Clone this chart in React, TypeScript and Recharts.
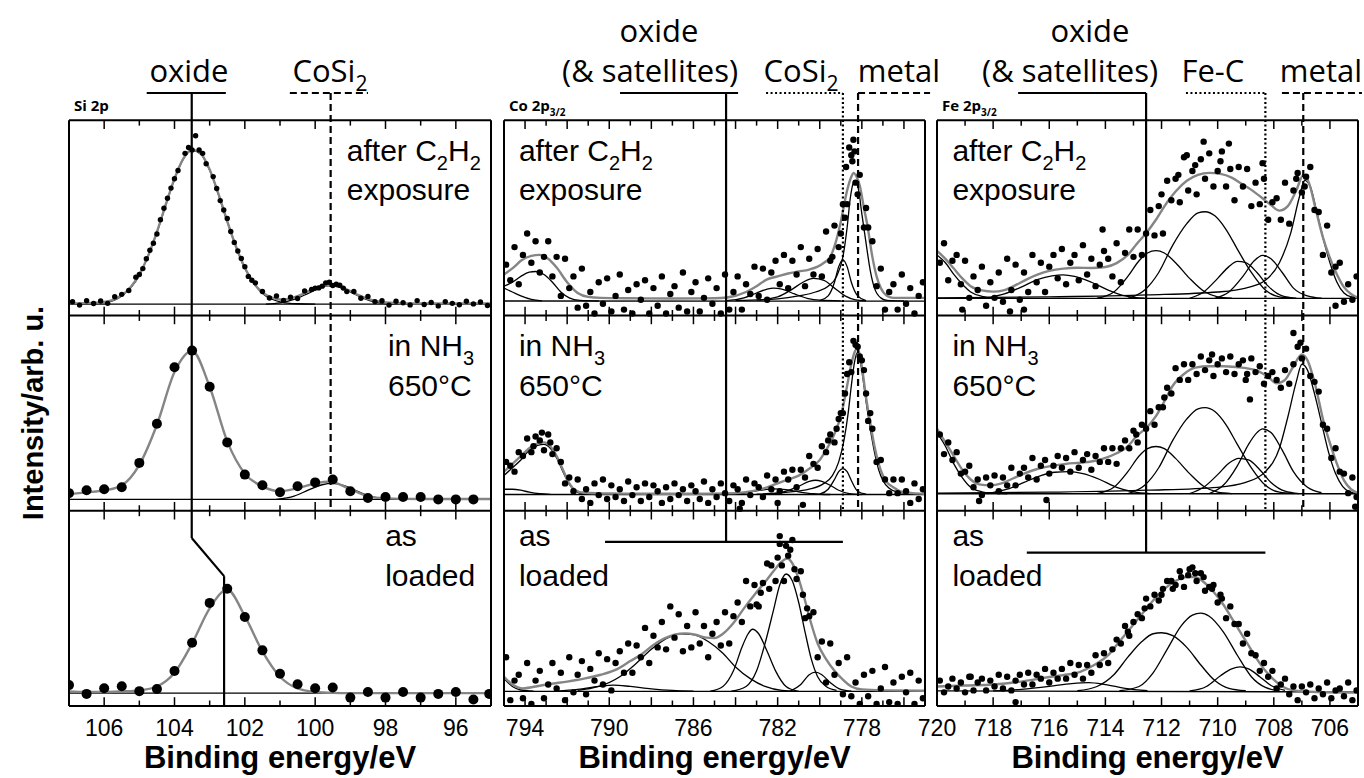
import React from 'react';
import { ComposedChart, XAxis, YAxis, Line, Scatter, ReferenceLine, ReferenceDot } from 'recharts';

type P = [number, number];
type Seg = { t: string; sub?: boolean };

const SANS = "'Liberation Sans', Arial, sans-serif";
const NARROW = "'Liberation Sans Narrow', 'Liberation Sans', Arial, sans-serif";
const ANNO = "'Open Sans', 'Noto Sans', sans-serif";

// ---------- Si 2p ----------
const siMajor = [96, 98, 100, 102, 104, 106];
const siMinor = [97, 99, 101, 103, 105];
const siLabels = [96, 98, 100, 102, 104, 106];

const siTopPts: P[] = [
  [106.9, 0.07], [106.7, 0.053], [106.5, 0.075], [106.3, 0.061], [106.1, 0.074], [105.9, 0.062], [105.7, 0.096],
  [105.5, 0.108], [105.3, 0.128], [105.1, 0.196], [104.9, 0.24], [104.7, 0.334], [104.5, 0.417], [104.3, 0.549],
  [104.1, 0.652], [103.9, 0.742], [103.7, 0.83], [103.5, 0.847], [103.3, 0.847], [103.1, 0.777], [102.9, 0.711],
  [102.7, 0.588], [102.5, 0.497], [102.3, 0.374], [102.1, 0.292], [101.9, 0.2], [101.7, 0.167], [101.5, 0.123],
  [101.3, 0.089], [101.1, 0.1], [100.9, 0.077], [100.7, 0.093], [100.5, 0.087], [100.3, 0.125], [100.1, 0.133],
  [99.9, 0.141], [99.7, 0.167], [99.5, 0.153], [99.3, 0.155], [99.1, 0.122], [98.9, 0.123], [98.7, 0.088],
  [98.5, 0.097], [98.3, 0.071], [98.1, 0.075], [97.9, 0.053], [97.7, 0.073], [97.5, 0.065], [97.3, 0.054],
  [97.1, 0.076], [96.9, 0.056], [96.7, 0.066], [96.5, 0.049], [96.3, 0.071], [96.1, 0.062], [95.9, 0.055],
  [95.7, 0.073], [95.5, 0.059], [95.3, 0.069], [95.1, 0.051],
  [103.4, 0.92], [103.6, 0.86], [103.2, 0.83], [104.0, 0.7], [102.8, 0.65], [104.2, 0.6], [102.6, 0.54],
  [104.4, 0.49], [102.4, 0.43], [104.6, 0.37], [102.2, 0.33], [104.8, 0.29], [102.0, 0.25], [105.0, 0.21],
  [101.8, 0.18], [99.6, 0.17], [99.8, 0.15], [100.0, 0.14], [99.4, 0.16], [99.2, 0.14],
];
const siTopFit: P[] = [
  [107, 0.062], [106.5, 0.063], [106, 0.069], [105.75, 0.08], [105.5, 0.103], [105.25, 0.144], [105, 0.21],
  [104.75, 0.305], [104.5, 0.428], [104.25, 0.567], [104, 0.701], [103.75, 0.803], [103.5, 0.848], [103.25, 0.829],
  [103, 0.747], [102.75, 0.622], [102.5, 0.483], [102.25, 0.352], [102, 0.244], [101.75, 0.167], [101.5, 0.118],
  [101.25, 0.092], [101, 0.082], [100.75, 0.085], [100.5, 0.099], [100.25, 0.118], [100, 0.139], [99.75, 0.153],
  [99.5, 0.155], [99.25, 0.145], [99, 0.125], [98.75, 0.103], [98.5, 0.085], [98.25, 0.073], [98, 0.066],
  [97.5, 0.062], [95, 0.062],
];
const siTopOx: P[] = [
  [107, 0.058], [106, 0.066], [105.5, 0.1], [105, 0.205], [104.5, 0.425], [104, 0.698], [103.75, 0.8], [103.5, 0.845],
  [103.25, 0.826], [103, 0.744], [102.5, 0.48], [102, 0.24], [101.5, 0.113], [101, 0.07], [100.5, 0.06], [100, 0.058],
];
const siTopCo: P[] = [
  [101.4, 0.058], [101, 0.064], [100.6, 0.082], [100.2, 0.113], [99.9, 0.138], [99.6, 0.153], [99.3, 0.144],
  [99, 0.12], [98.7, 0.094], [98.4, 0.073], [98, 0.061], [97.6, 0.058],
];
const siTopBase: P[] = [[107, 0.058], [95, 0.058]];

const siMidPts: P[] = [
  [107, 0.09], [106.5, 0.105], [106, 0.11], [105.5, 0.12], [105, 0.245], [104.5, 0.445], [104, 0.735], [103.5, 0.82],
  [103, 0.635], [102.5, 0.35], [102, 0.185], [101.5, 0.13], [101, 0.095], [100.5, 0.125], [100, 0.145], [99.5, 0.16],
  [99, 0.1], [98.5, 0.065], [98, 0.07], [97.5, 0.07], [97, 0.07], [96.5, 0.058], [96, 0.058], [95.5, 0.058],
];
const siMidFit: P[] = [
  [107, 0.085], [106.5, 0.094], [106, 0.104], [105.5, 0.13], [105, 0.235], [104.5, 0.44], [104, 0.71], [103.5, 0.818],
  [103, 0.635], [102.5, 0.355], [102, 0.19], [101.5, 0.125], [101, 0.1], [100.5, 0.115], [100, 0.14], [99.6, 0.15],
  [99, 0.11], [98.5, 0.075], [98, 0.063], [97, 0.06], [95, 0.06],
];
const siMidCo: P[] = [
  [101.1, 0.058], [100.6, 0.075], [100.2, 0.105], [99.8, 0.133], [99.5, 0.14], [99.2, 0.13], [98.9, 0.108],
  [98.5, 0.078], [98.1, 0.062], [97.7, 0.058],
];
const siMidBase: P[] = [[107, 0.058], [95, 0.058]];

const siBotPts: P[] = [
  [107, 0.107], [106.5, 0.062], [106, 0.091], [105.5, 0.101], [105, 0.076], [104.5, 0.087], [104, 0.179],
  [103.5, 0.324], [103, 0.528], [102.5, 0.6], [102, 0.456], [101.5, 0.285], [101, 0.165], [100.5, 0.111],
  [100, 0.091], [99.5, 0.095], [99, 0.043], [98.5, 0.072], [98, 0.043], [97.5, 0.072], [97, 0.043], [96.5, 0.062],
  [96, 0.072], [95.5, 0.033], [95.05, 0.062],
];
const siBotFit: P[] = [
  [107, 0.075], [106.5, 0.072], [106, 0.072], [105.5, 0.075], [105, 0.08], [104.5, 0.1], [104, 0.17], [103.5, 0.32],
  [103, 0.5], [102.5, 0.595], [102, 0.46], [101.5, 0.28], [101, 0.15], [100.5, 0.09], [100, 0.072], [99.5, 0.067],
  [99, 0.066], [95, 0.066],
];
const siBotBase: P[] = [[107, 0.066], [95, 0.066]];

// ---------- Co 2p3/2 ----------
const coMajor = [776, 778, 780, 782, 784, 786, 788, 790, 792, 794];
const coMinor = [777, 779, 781, 783, 785, 787, 789, 791, 793];
const coLabels = [778, 782, 786, 790, 794];

const coTopPts: P[] = [
  [794.9, 0.26], [794.7, 0.18], [794.5, 0.35], [794.3, 0.16], [794.1, 0.31], [793.9, 0.42], [793.7, 0.27],
  [793.5, 0.38], [793.3, 0.22], [793.1, 0.3], [792.9, 0.38], [792.7, 0.2], [792.5, 0.3], [792.3, 0.1], [792.1, 0.29],
  [791.9, 0.14], [791.7, 0.2], [791.5, 0.04], [791.3, 0.24], [791.1, 0.05], [790.9, 0.12], [790.7, 0.01],
  [790.5, 0.17], [790.3, 0.06], [790.1, 0.19], [789.9, 0.02], [789.7, 0.1], [789.5, 0.21], [789.3, 0.03],
  [789.1, 0.13], [788.9, 0.01], [788.7, 0.16], [788.5, 0.08], [788.3, 0.18], [788.1, 0.01], [787.9, 0.14],
  [787.7, 0.05], [787.5, 0.2], [787.3, 0.01], [787.1, 0.11], [786.9, 0.15], [786.7, 0.04], [786.5, 0.22],
  [786.3, 0.02], [786.1, 0.12], [785.9, 0.17], [785.7, 0.02], [785.5, 0.09], [785.3, 0.19], [785.1, 0.06],
  [784.9, 0.14], [784.7, 0.01], [784.5, 0.21], [784.3, 0.03], [784.1, 0.12], [783.9, 0.2], [783.7, 0.03],
  [783.5, 0.16], [783.3, 0.11], [783.1, 0.25], [782.9, 0.1], [782.7, 0.24], [782.5, 0.08], [782.3, 0.22],
  [782.1, 0.28], [781.9, 0.16], [781.7, 0.31], [781.5, 0.14], [781.3, 0.28], [781.1, 0.21], [780.9, 0.35],
  [780.7, 0.15], [780.5, 0.29], [780.3, 0.21], [780.1, 0.34], [779.9, 0.2], [779.7, 0.43], [779.5, 0.28],
  [779.3, 0.46], [779.1, 0.35], [778.9, 0.57], [778.7, 0.57], [778.5, 0.82], [778.3, 0.68], [778.1, 0.72],
  [777.9, 0.45], [777.7, 0.45], [777.5, 0.38], [777.3, 0.15], [777.1, 0.24], [776.9, 0.03], [776.7, 0.12],
  [776.5, 0.16], [776.3, 0.03], [776.1, 0.21], [775.9, 0.06], [775.7, 0.14], [775.5, 0.01], [775.3, 0.1],
  [775.1, 0.17],
  [778.6, 0.86], [778.4, 0.9], [778.45, 0.79], [778.2, 0.62], [778.75, 0.76], [778.35, 0.84], [779.0, 0.42],
  [778.8, 0.5], [777.8, 0.55], [779.4, 0.3],
];
const coTopFit: P[] = [
  [795, 0.21], [794.5, 0.25], [794.2, 0.28], [793.7, 0.305], [793.3, 0.31], [792.9, 0.29], [792.5, 0.245],
  [792.0, 0.17], [791.5, 0.115], [791.0, 0.095], [790.4, 0.09], [789, 0.088], [787, 0.087], [785, 0.088],
  [784.4, 0.092], [783.5, 0.12], [783, 0.15], [782.5, 0.185], [782, 0.2], [781.5, 0.215], [781, 0.225],
  [780.5, 0.235], [780.1, 0.25], [779.8, 0.27], [779.5, 0.3], [779.2, 0.39], [779.0, 0.48], [778.7, 0.64],
  [778.5, 0.71], [778.4, 0.73], [778.25, 0.71], [778.1, 0.665], [777.9, 0.55], [777.75, 0.47], [777.5, 0.3],
  [777.3, 0.2], [777.1, 0.14], [776.8, 0.1], [776.5, 0.09], [775, 0.09],
];
const coTopBase: P[] = [[795, 0.074], [775, 0.073]];
const coTopSatA: P[] = [
  [795, 0.15], [794.6, 0.17], [794.2, 0.2], [793.8, 0.222], [793.5, 0.225], [793.1, 0.21], [792.7, 0.17],
  [792.3, 0.12], [791.9, 0.09], [791.4, 0.077], [790.5, 0.074],
];
const coTopSatB: P[] = [[795, 0.14], [794.6, 0.12], [794.2, 0.1], [793.7, 0.082], [793.2, 0.075]];
const coTopC1: P[] = [
  [784.5, 0.075], [783.6, 0.09], [783, 0.115], [782.5, 0.135], [782.2, 0.14], [781.8, 0.135], [781.2, 0.11],
  [780.6, 0.088], [780, 0.078], [779, 0.075],
];
const coTopC2: P[] = [
  [783, 0.078], [782, 0.095], [781.3, 0.135], [780.8, 0.17], [780.3, 0.19], [779.8, 0.18], [779.3, 0.14],
  [778.8, 0.1], [778.3, 0.08], [777.8, 0.075],
];
const coTopSi: P[] = [
  [780, 0.076], [779.6, 0.1], [779.3, 0.17], [779.1, 0.25], [778.9, 0.285], [778.7, 0.25], [778.5, 0.17],
  [778.2, 0.1], [777.8, 0.076],
];
const coTopMetal: P[] = [
  [784, 0.076], [782, 0.085], [781, 0.1], [780.2, 0.12], [779.6, 0.15], [779.2, 0.2], [778.9, 0.3], [778.7, 0.45],
  [778.55, 0.6], [778.4, 0.68], [778.3, 0.69], [778.15, 0.64], [778.0, 0.52], [777.8, 0.37], [777.6, 0.23],
  [777.4, 0.14], [777.1, 0.09], [776.8, 0.077], [776, 0.074],
];

const coMidPts: P[] = [
  [794.9, 0.25], [794.7, 0.23], [794.5, 0.2], [794.3, 0.3], [794.1, 0.28], [793.9, 0.37], [793.7, 0.3], [793.5, 0.38],
  [793.3, 0.36], [793.1, 0.31], [792.9, 0.39], [792.7, 0.29], [792.5, 0.32], [792.3, 0.25], [792.1, 0.14],
  [791.9, 0.17], [791.7, 0.1], [791.5, 0.16], [791.3, 0.06], [791.1, 0.11], [790.9, 0.04], [790.7, 0.14],
  [790.5, 0.08], [790.3, 0.16], [790.1, 0.06], [789.9, 0.13], [789.7, 0.07], [789.5, 0.11], [789.3, 0.05],
  [789.1, 0.15], [788.9, 0.08], [788.7, 0.12], [788.5, 0.05], [788.3, 0.14], [788.1, 0.07], [787.9, 0.13],
  [787.7, 0.1], [787.5, 0.04], [787.3, 0.12], [787.1, 0.06], [786.9, 0.14], [786.7, 0.08], [786.5, 0.11],
  [786.3, 0.05], [786.1, 0.13], [785.9, 0.1], [785.7, 0.06], [785.5, 0.15], [785.3, 0.04], [785.1, 0.11],
  [784.9, 0.07], [784.7, 0.14], [784.5, 0.09], [784.3, 0.05], [784.1, 0.13], [783.9, 0.11], [783.7, 0.04],
  [783.5, 0.16], [783.3, 0.08], [783.1, 0.14], [782.9, 0.12], [782.7, 0.07], [782.5, 0.18], [782.3, 0.11],
  [782.1, 0.16], [781.9, 0.1], [781.7, 0.2], [781.5, 0.16], [781.3, 0.21], [781.1, 0.12], [780.9, 0.21],
  [780.7, 0.17], [780.5, 0.28], [780.3, 0.24], [780.1, 0.22], [779.9, 0.33], [779.7, 0.3], [779.5, 0.39],
  [779.3, 0.35], [779.1, 0.47], [778.9, 0.5], [778.7, 0.7], [778.5, 0.71], [778.3, 0.85], [778.1, 0.79],
  [777.9, 0.72], [777.7, 0.46], [777.5, 0.42], [777.3, 0.25], [777.1, 0.26], [776.9, 0.16], [776.7, 0.09],
  [776.5, 0.16], [776.3, 0.09], [776.1, 0.16], [775.9, 0.1], [775.7, 0.04], [775.5, 0.14], [775.3, 0.06],
  [775.1, 0.11],
  [778.4, 0.87], [778.2, 0.84], [778.6, 0.76], [778.0, 0.77], [778.8, 0.6], [777.8, 0.6], [779.2, 0.42],
  [779.6, 0.36], [779.0, 0.5], [777.6, 0.5], [783.8, 0.01], [782.0, 0.04], [780.8, 0.03], [793.2, 0.4],
  [793.6, 0.33], [792.8, 0.35],
];
const coMidFit: P[] = [
  [795, 0.2], [794.6, 0.24], [794.2, 0.28], [793.8, 0.32], [793.4, 0.345], [793.1, 0.35], [792.8, 0.33],
  [792.5, 0.28], [792.2, 0.21], [791.9, 0.14], [791.6, 0.105], [791.2, 0.092], [790, 0.088], [788, 0.087],
  [786, 0.087], [784, 0.09], [783.2, 0.1], [782.5, 0.12], [782, 0.14], [781.5, 0.16], [781, 0.18], [780.5, 0.215],
  [780, 0.26], [779.7, 0.31], [779.4, 0.37], [779.1, 0.45], [778.9, 0.53], [778.7, 0.64], [778.5, 0.75],
  [778.35, 0.81], [778.22, 0.83], [778.1, 0.8], [777.95, 0.7], [777.8, 0.58], [777.6, 0.45], [777.4, 0.33],
  [777.2, 0.24], [777.0, 0.18], [776.8, 0.145], [776.5, 0.12], [776.2, 0.1], [775.6, 0.09], [775, 0.087],
];
const coMidBase: P[] = [[795, 0.083], [775, 0.083]];
const coMidSatA: P[] = [[795, 0.11], [794.6, 0.11], [794.2, 0.105], [793.8, 0.095], [793.3, 0.087], [792.8, 0.084]];
const coMidSatB: P[] = [
  [795, 0.18], [794.6, 0.22], [794.2, 0.26], [793.8, 0.31], [793.4, 0.335], [793.1, 0.34], [792.8, 0.32],
  [792.5, 0.27], [792.2, 0.2], [791.9, 0.135], [791.6, 0.1], [791.2, 0.086], [790.6, 0.083],
];
const coMidC1: P[] = [
  [784.5, 0.083], [783.5, 0.092], [782.8, 0.105], [782.2, 0.112], [781.6, 0.108], [781, 0.097], [780.3, 0.087],
  [779.5, 0.083],
];
const coMidC2: P[] = [
  [782.3, 0.085], [781.6, 0.1], [781, 0.125], [780.5, 0.15], [780.2, 0.156], [779.9, 0.15], [779.5, 0.13],
  [779.1, 0.105], [778.6, 0.088], [778, 0.083],
];
const coMidSi: P[] = [
  [780, 0.085], [779.6, 0.11], [779.3, 0.16], [779.1, 0.2], [778.9, 0.216], [778.7, 0.2], [778.5, 0.155],
  [778.2, 0.1], [777.8, 0.085],
];
const coMidMetal: P[] = [
  [783, 0.085], [781.5, 0.095], [780.5, 0.11], [779.8, 0.14], [779.4, 0.18], [779.1, 0.25], [778.85, 0.36],
  [778.65, 0.5], [778.5, 0.64], [778.35, 0.76], [778.22, 0.81], [778.1, 0.78], [777.95, 0.68], [777.8, 0.56],
  [777.6, 0.42], [777.4, 0.3], [777.2, 0.21], [777.0, 0.155], [776.7, 0.115], [776.3, 0.095], [775.5, 0.086],
  [775, 0.084],
];

const coBotPts: P[] = [
  [794.9, 0.25], [794.7, 0.03], [794.5, 0.13], [794.3, 0.16], [794.1, 0.04], [793.9, 0.22], [793.7, 0.01],
  [793.5, 0.13], [793.3, 0.18], [793.1, 0.04], [792.9, 0.11], [792.7, 0.22], [792.5, 0.09], [792.3, 0.17],
  [792.1, 0.03], [791.9, 0.25], [791.7, 0.07], [791.5, 0.16], [791.3, 0.23], [791.1, 0.06], [790.9, 0.19],
  [790.7, 0.13], [790.5, 0.27], [790.3, 0.11], [790.1, 0.24], [789.9, 0.08], [789.7, 0.22], [789.5, 0.28],
  [789.3, 0.17], [789.1, 0.32], [788.9, 0.17], [788.7, 0.31], [788.5, 0.25], [788.3, 0.4], [788.1, 0.22],
  [787.9, 0.36], [787.7, 0.3], [787.5, 0.43], [787.3, 0.29], [787.1, 0.51], [786.9, 0.35], [786.7, 0.47],
  [786.5, 0.28], [786.3, 0.41], [786.1, 0.3], [785.9, 0.48], [785.7, 0.32], [785.5, 0.41], [785.3, 0.25],
  [785.1, 0.37], [784.9, 0.43], [784.7, 0.31], [784.5, 0.48], [784.3, 0.32], [784.1, 0.46], [783.9, 0.53],
  [783.7, 0.43], [783.5, 0.64], [783.3, 0.51], [783.1, 0.62], [782.9, 0.51], [782.7, 0.63], [782.5, 0.73],
  [782.3, 0.72], [782.1, 0.64], [781.9, 0.83], [781.7, 0.64], [781.5, 0.77], [781.3, 0.85], [781.1, 0.65],
  [780.9, 0.69], [780.7, 0.45], [780.5, 0.46], [780.3, 0.48], [780.1, 0.25], [779.9, 0.33], [779.7, 0.12],
  [779.5, 0.32], [779.3, 0.16], [779.1, 0.22], [778.9, 0.06], [778.7, 0.25], [778.5, 0.05], [778.3, 0.12],
  [778.1, 0.01], [777.9, 0.16], [777.7, 0.05], [777.5, 0.18], [777.3, 0.01], [777.1, 0.09], [776.9, 0.2],
  [776.7, 0.02], [776.5, 0.12], [776.3, 0.01], [776.1, 0.15], [775.9, 0.07], [775.7, 0.17], [775.5, 0.01],
  [775.3, 0.13], [775.1, 0.04],
  [781.6, 0.82], [781.4, 0.8], [781.8, 0.72], [782.0, 0.76], [781.2, 0.7], [782.4, 0.6], [782.8, 0.58],
  [783.0, 0.52], [780.8, 0.57], [780.6, 0.5], [781.9, 0.87],
];
const coBotFit: P[] = [
  [795, 0.15], [794.6, 0.11], [794.1, 0.09], [793.5, 0.1], [792.8, 0.113], [792, 0.125], [791.2, 0.14],
  [790.4, 0.16], [789.6, 0.19], [789, 0.23], [788.4, 0.27], [788, 0.305], [787.4, 0.345], [786.9, 0.365],
  [786.4, 0.372], [785.9, 0.365], [785.4, 0.35], [785.0, 0.348], [784.6, 0.37], [784.1, 0.425], [783.6, 0.5],
  [783.1, 0.57], [782.6, 0.635], [782.2, 0.69], [781.8, 0.74], [781.55, 0.755], [781.3, 0.73], [781, 0.65],
  [780.7, 0.54], [780.4, 0.42], [780.1, 0.32], [779.7, 0.24], [779.3, 0.18], [778.9, 0.135], [778.5, 0.1],
  [778, 0.085], [777, 0.08], [775, 0.078],
];
const coBotBase: P[] = [[795, 0.075], [775, 0.075]];
const coBotTail: P[] = [[795, 0.14], [794.6, 0.1], [794.2, 0.082], [793.6, 0.076]];
const coBotSmall: P[] = [
  [792.5, 0.076], [791.5, 0.085], [790.5, 0.1], [789.8, 0.107], [789, 0.1], [788, 0.088], [787, 0.08], [786, 0.076],
];
const coBotBroad: P[] = [
  [791.5, 0.08], [790.5, 0.1], [789.5, 0.15], [788.7, 0.22], [788, 0.29], [787.3, 0.345], [786.6, 0.37],
  [786.0, 0.365], [785.3, 0.33], [784.6, 0.27], [784, 0.2], [783.3, 0.14], [782.6, 0.1], [781.8, 0.08], [781, 0.076],
];
const coBotC: P[] = [
  [785.2, 0.076], [784.6, 0.1], [784.1, 0.18], [783.7, 0.3], [783.4, 0.37], [783.2, 0.393], [782.9, 0.37],
  [782.5, 0.28], [782.1, 0.18], [781.6, 0.1], [781.1, 0.078],
];
const coBotMain: P[] = [
  [784.2, 0.076], [783.5, 0.1], [783, 0.18], [782.6, 0.32], [782.2, 0.49], [781.9, 0.62], [781.6, 0.676],
  [781.3, 0.64], [781, 0.53], [780.7, 0.38], [780.4, 0.24], [780.1, 0.15], [779.7, 0.1], [779.2, 0.08],
];
const coBotRight: P[] = [
  [781.4, 0.076], [780.9, 0.11], [780.5, 0.16], [780.2, 0.173], [779.9, 0.16], [779.5, 0.12], [779, 0.085],
  [778.5, 0.076],
];

// ---------- Fe 2p3/2 ----------
const feMajor = [706, 708, 710, 712, 714, 716, 718];
const feMinor = [707, 709, 711, 713, 715, 717, 719];
const feLabels = [706, 708, 710, 712, 714, 716, 718, 720];

const feTopPts: P[] = [
  [719.9, 0.27], [719.75, 0.37], [719.6, 0.18], [719.45, 0.28], [719.3, 0.31], [719.15, 0.16], [719.0, 0.28],
  [718.85, 0.09], [718.7, 0.2], [718.55, 0.13], [718.4, 0.25], [718.25, 0.05], [718.1, 0.17], [717.95, 0.09],
  [717.8, 0.22], [717.65, 0.07], [717.5, 0.29], [717.35, 0.13], [717.2, 0.26], [717.05, 0.08], [716.9, 0.22],
  [716.75, 0.12], [716.6, 0.31], [716.45, 0.17], [716.3, 0.27], [716.15, 0.12], [716.0, 0.25], [715.85, 0.31],
  [715.7, 0.19], [715.55, 0.34], [715.4, 0.16], [715.25, 0.27], [715.1, 0.31], [714.95, 0.18], [714.8, 0.36],
  [714.65, 0.21], [714.5, 0.29], [714.35, 0.15], [714.2, 0.26], [714.05, 0.33], [713.9, 0.29], [713.75, 0.2],
  [713.6, 0.37], [713.45, 0.17], [713.3, 0.32], [713.15, 0.44], [713.0, 0.3], [712.85, 0.44], [712.7, 0.31],
  [712.55, 0.42], [712.4, 0.54], [712.25, 0.41], [712.1, 0.56], [711.95, 0.42], [711.8, 0.69], [711.65, 0.59],
  [711.5, 0.7], [711.35, 0.58], [711.2, 0.81], [711.05, 0.64], [710.9, 0.74], [710.75, 0.62], [710.6, 0.8],
  [710.45, 0.7], [710.3, 0.83], [710.15, 0.66], [710.0, 0.74], [709.85, 0.84], [709.7, 0.66], [709.55, 0.75],
  [709.4, 0.59], [709.25, 0.76], [709.1, 0.66], [708.95, 0.75], [708.8, 0.56], [708.65, 0.68], [708.5, 0.57],
  [708.35, 0.7], [708.2, 0.49], [708.05, 0.58], [707.9, 0.6], [707.75, 0.49], [707.6, 0.68], [707.45, 0.47],
  [707.3, 0.64], [707.15, 0.73], [707.0, 0.63], [706.85, 0.71], [706.7, 0.76], [706.55, 0.54], [706.4, 0.53],
  [706.25, 0.31], [706.1, 0.46], [705.95, 0.22], [705.8, 0.25], [705.65, 0.27], [705.5, 0.07], [705.35, 0.16],
  [705.2, 0.08], [705.05, 0.2],
  [719.1, 0.03], [717.4, 0.02], [716.9, 0.03], [705.8, 0.05], [710.5, 0.89], [709.6, 0.88], [711.1, 0.82],
  [708.4, 0.78], [714.1, 0.44], [707.2, 0.7], [706.9, 0.66], [710.8, 0.77], [709.9, 0.79], [712.0, 0.62],
  [711.4, 0.72],
];
const feTopFit: P[] = [
  [720, 0.33], [719.7, 0.29], [719.4, 0.24], [719.1, 0.19], [718.8, 0.15], [718.4, 0.128], [718.0, 0.122],
  [717.6, 0.13], [717.2, 0.155], [716.8, 0.185], [716.4, 0.21], [716, 0.228], [715.5, 0.24], [715, 0.244],
  [714.5, 0.243], [714, 0.248], [713.6, 0.268], [713.2, 0.31], [712.9, 0.363], [712.5, 0.43], [712.2, 0.49],
  [711.8, 0.58], [711.5, 0.635], [711.1, 0.69], [710.7, 0.72], [710.3, 0.73], [709.9, 0.725], [709.5, 0.706],
  [709.1, 0.67], [708.8, 0.643], [708.4, 0.6], [708.1, 0.565], [707.8, 0.537], [707.5, 0.56], [707.2, 0.64],
  [706.95, 0.718], [706.75, 0.68], [706.5, 0.54], [706.25, 0.4], [706.0, 0.294], [705.75, 0.21], [705.5, 0.145],
  [705.25, 0.11], [705, 0.09],
];
const feTopBase: P[] = [[720, 0.087], [705, 0.087]];
const feTopF1: P[] = [
  [720, 0.31], [719.7, 0.27], [719.4, 0.21], [719.1, 0.16], [718.8, 0.12], [718.4, 0.098], [718, 0.09], [717.5, 0.087],
];
const feTopF2: P[] = [
  [718.3, 0.088], [717.6, 0.11], [717, 0.145], [716.4, 0.185], [715.9, 0.203], [715.5, 0.208], [715.1, 0.2],
  [714.5, 0.17], [713.9, 0.13], [713.3, 0.1], [712.6, 0.088],
];
const feTopF3: P[] = [
  [714.3, 0.088], [713.7, 0.12], [713.2, 0.2], [712.8, 0.28], [712.5, 0.32], [712.2, 0.332], [711.9, 0.32],
  [711.5, 0.27], [711.0, 0.19], [710.5, 0.125], [710, 0.095], [709.5, 0.088],
];
const feTopF4: P[] = [
  [713.2, 0.088], [712.6, 0.13], [712.1, 0.22], [711.6, 0.36], [711.1, 0.47], [710.7, 0.525], [710.45, 0.531],
  [710.1, 0.51], [709.7, 0.44], [709.3, 0.34], [708.8, 0.22], [708.3, 0.13], [707.8, 0.095], [707.3, 0.088],
];
const feTopF5: P[] = [
  [711, 0.088], [710.5, 0.12], [710, 0.19], [709.6, 0.25], [709.3, 0.277], [709, 0.27], [708.6, 0.22],
  [708.2, 0.15], [707.7, 0.1], [707.2, 0.088],
];
const feTopF6: P[] = [
  [710.1, 0.088], [709.6, 0.12], [709.1, 0.2], [708.7, 0.28], [708.4, 0.308], [708.1, 0.29], [707.7, 0.22],
  [707.3, 0.14], [706.8, 0.1], [706.3, 0.088],
];
const feTopMetal: P[] = [
  [720, 0.09], [716, 0.095], [712.5, 0.105], [710, 0.12], [709, 0.14], [708.3, 0.18], [707.8, 0.27], [707.4, 0.42],
  [707.1, 0.6], [706.9, 0.692], [706.7, 0.66], [706.5, 0.55], [706.25, 0.4], [706.0, 0.27], [705.75, 0.17],
  [705.5, 0.115], [705.2, 0.093], [705, 0.088],
];

const feMidPts: P[] = [
  [719.9, 0.39], [719.75, 0.29], [719.6, 0.35], [719.45, 0.26], [719.3, 0.3], [719.15, 0.19], [719.0, 0.2],
  [718.85, 0.23], [718.7, 0.12], [718.55, 0.16], [718.4, 0.08], [718.25, 0.17], [718.1, 0.13], [717.95, 0.18],
  [717.8, 0.1], [717.65, 0.17], [717.5, 0.13], [717.35, 0.22], [717.2, 0.13], [717.05, 0.19], [716.9, 0.22],
  [716.75, 0.17], [716.6, 0.27], [716.45, 0.16], [716.3, 0.23], [716.15, 0.26], [716.0, 0.19], [715.85, 0.23],
  [715.7, 0.28], [715.55, 0.22], [715.4, 0.27], [715.25, 0.2], [715.1, 0.3], [714.95, 0.22], [714.8, 0.26],
  [714.65, 0.29], [714.5, 0.21], [714.35, 0.28], [714.2, 0.25], [714.05, 0.32], [713.9, 0.25], [713.75, 0.32],
  [713.6, 0.24], [713.45, 0.32], [713.3, 0.36], [713.15, 0.32], [713.0, 0.41], [712.85, 0.35], [712.7, 0.44],
  [712.55, 0.42], [712.4, 0.51], [712.25, 0.44], [712.1, 0.53], [711.95, 0.53], [711.8, 0.63], [711.65, 0.6],
  [711.5, 0.73], [711.35, 0.67], [711.2, 0.75], [711.05, 0.67], [710.9, 0.75], [710.75, 0.7], [710.6, 0.79],
  [710.45, 0.72], [710.3, 0.77], [710.15, 0.69], [710.0, 0.75], [709.85, 0.78], [709.7, 0.71], [709.55, 0.79],
  [709.4, 0.7], [709.25, 0.75], [709.1, 0.77], [708.95, 0.7], [708.8, 0.78], [708.65, 0.71], [708.5, 0.74],
  [708.35, 0.65], [708.2, 0.69], [708.05, 0.71], [707.9, 0.67], [707.75, 0.63], [707.6, 0.72], [707.45, 0.65],
  [707.3, 0.75], [707.15, 0.84], [707.0, 0.78], [706.85, 0.83], [706.7, 0.69], [706.55, 0.66], [706.4, 0.61],
  [706.25, 0.44], [706.1, 0.42], [705.95, 0.27], [705.8, 0.32], [705.65, 0.2], [705.5, 0.19], [705.35, 0.09],
  [705.2, 0.17], [705.05, 0.07],
  [707.3, 0.91], [708.85, 0.57], [718.5, 0.05], [716.1, 0.055], [705.1, 0.02], [710.2, 0.8], [709.0, 0.67],
  [711.9, 0.58], [712.9, 0.39], [707.05, 0.86],
];
const feMidFit: P[] = [
  [720, 0.42], [719.7, 0.35], [719.4, 0.28], [719.1, 0.21], [718.8, 0.16], [718.5, 0.135], [718.1, 0.13],
  [717.7, 0.14], [717.3, 0.165], [716.9, 0.19], [716.4, 0.215], [715.9, 0.23], [715.4, 0.24], [714.9, 0.246],
  [714.5, 0.252], [714.1, 0.265], [713.6, 0.294], [713.2, 0.33], [712.9, 0.38], [712.5, 0.43], [712.2, 0.484],
  [711.9, 0.56], [711.6, 0.64], [711.2, 0.7], [710.8, 0.733], [710.3, 0.74], [709.8, 0.74], [709.3, 0.735],
  [708.9, 0.728], [708.6, 0.718], [708.2, 0.685], [707.9, 0.652], [707.6, 0.67], [707.3, 0.74], [707.0, 0.8],
  [706.8, 0.77], [706.5, 0.63], [706.25, 0.47], [706.0, 0.346], [705.75, 0.24], [705.5, 0.155], [705.25, 0.11],
  [705, 0.09],
];
const feMidBase: P[] = [[720, 0.087], [705, 0.087]];
const feMidF1: P[] = [
  [720, 0.4], [719.7, 0.33], [719.4, 0.24], [719.1, 0.17], [718.8, 0.12], [718.4, 0.097], [718, 0.09], [717.5, 0.087],
];
const feMidF2: P[] = [
  [718.2, 0.088], [717.5, 0.11], [716.9, 0.145], [716.3, 0.18], [715.8, 0.197], [715.3, 0.2], [714.8, 0.19],
  [714.2, 0.16], [713.6, 0.12], [713, 0.097], [712.4, 0.088],
];
const feMidF3: P[] = [
  [714.3, 0.088], [713.7, 0.12], [713.2, 0.2], [712.8, 0.28], [712.5, 0.318], [712.2, 0.329], [711.9, 0.318],
  [711.5, 0.268], [711.0, 0.19], [710.5, 0.125], [710, 0.095], [709.5, 0.088],
];
const feMidF4: P[] = [
  [713.2, 0.088], [712.6, 0.13], [712.1, 0.22], [711.6, 0.36], [711.1, 0.47], [710.7, 0.522], [710.45, 0.528],
  [710.1, 0.508], [709.7, 0.44], [709.3, 0.34], [708.8, 0.22], [708.3, 0.13], [707.8, 0.095], [707.3, 0.088],
];
const feMidF5: P[] = [
  [711, 0.088], [710.5, 0.12], [710, 0.185], [709.6, 0.243], [709.25, 0.268], [708.9, 0.26], [708.5, 0.21],
  [708.1, 0.145], [707.6, 0.1], [707.1, 0.088],
];
const feMidF6: P[] = [
  [710.3, 0.088], [709.8, 0.13], [709.3, 0.23], [708.9, 0.34], [708.6, 0.4], [708.4, 0.419], [708.1, 0.4],
  [707.7, 0.31], [707.3, 0.2], [706.8, 0.12], [706.3, 0.092],
];
const feMidMetal: P[] = [
  [720, 0.09], [716, 0.095], [712.5, 0.105], [710, 0.12], [709, 0.145], [708.3, 0.2], [707.8, 0.32], [707.5, 0.48],
  [707.2, 0.66], [707.0, 0.75], [706.8, 0.72], [706.55, 0.6], [706.3, 0.45], [706.05, 0.3], [705.8, 0.19],
  [705.55, 0.125], [705.3, 0.097], [705, 0.088],
];

const feBotPts: P[] = [
  [719.9, 0.13], [719.75, 0.07], [719.6, 0.1], [719.45, 0.14], [719.3, 0.09], [719.15, 0.12], [719.0, 0.07],
  [718.85, 0.15], [718.7, 0.08], [718.55, 0.12], [718.4, 0.14], [718.25, 0.08], [718.1, 0.13], [717.95, 0.1],
  [717.8, 0.16], [717.65, 0.09], [717.5, 0.15], [717.35, 0.08], [717.2, 0.13], [717.05, 0.16], [716.9, 0.11],
  [716.75, 0.17], [716.6, 0.11], [716.45, 0.16], [716.3, 0.14], [716.15, 0.19], [716.0, 0.12], [715.85, 0.17],
  [715.7, 0.14], [715.55, 0.19], [715.4, 0.14], [715.25, 0.22], [715.1, 0.16], [714.95, 0.21], [714.8, 0.14],
  [714.65, 0.21], [714.5, 0.17], [714.35, 0.26], [714.2, 0.21], [714.05, 0.27], [713.9, 0.22], [713.75, 0.29],
  [713.6, 0.34], [713.45, 0.32], [713.3, 0.41], [713.15, 0.36], [713.0, 0.43], [712.85, 0.47], [712.7, 0.45],
  [712.55, 0.55], [712.4, 0.51], [712.25, 0.57], [712.1, 0.54], [711.95, 0.6], [711.8, 0.64], [711.65, 0.64],
  [711.5, 0.62], [711.35, 0.69], [711.2, 0.61], [711.05, 0.67], [710.9, 0.71], [710.75, 0.64], [710.6, 0.68],
  [710.45, 0.59], [710.3, 0.61], [710.15, 0.62], [710.0, 0.53], [709.85, 0.55], [709.7, 0.45], [709.55, 0.51],
  [709.4, 0.42], [709.25, 0.42], [709.1, 0.32], [708.95, 0.37], [708.8, 0.27], [708.65, 0.26], [708.5, 0.18],
  [708.35, 0.22], [708.2, 0.15], [708.05, 0.18], [707.9, 0.09], [707.75, 0.11], [707.6, 0.14], [707.45, 0.06],
  [707.3, 0.1], [707.15, 0.03], [707.0, 0.1], [706.85, 0.07], [706.7, 0.11], [706.55, 0.04], [706.4, 0.09],
  [706.25, 0.06], [706.1, 0.12], [705.95, 0.04], [705.8, 0.08], [705.65, 0.09], [705.5, 0.05], [705.35, 0.12],
  [705.2, 0.03], [705.05, 0.08],
  [711.0, 0.7], [710.8, 0.68], [711.3, 0.66], [711.6, 0.6], [712.0, 0.57], [710.5, 0.66], [710.2, 0.6],
  [709.9, 0.57], [713.2, 0.38], [712.6, 0.5], [718.8, 0.15], [717.2, 0.02],
];
const feBotFit: P[] = [
  [720, 0.1], [719, 0.105], [718, 0.11], [717, 0.125], [716.1, 0.146], [715.5, 0.158], [714.9, 0.175], [714.4, 0.21],
  [713.9, 0.26], [713.5, 0.33], [713.1, 0.4], [712.7, 0.47], [712.3, 0.54], [711.9, 0.6], [711.5, 0.64],
  [711.1, 0.66], [710.8, 0.66], [710.5, 0.635], [710.15, 0.585], [709.8, 0.52], [709.5, 0.45], [709.2, 0.38],
  [708.9, 0.31], [708.6, 0.24], [708.3, 0.18], [708, 0.135], [707.7, 0.1], [707.3, 0.08], [706.5, 0.072], [705, 0.069],
];
const feBotBase: P[] = [[720, 0.077], [705, 0.072]];
const feBotB1: P[] = [
  [718, 0.077], [717, 0.085], [716, 0.1], [715.2, 0.115], [714.6, 0.12], [714, 0.11], [713.3, 0.09], [712.5, 0.078],
];
const feBotB2: P[] = [
  [715, 0.078], [714.3, 0.1], [713.7, 0.16], [713.2, 0.25], [712.7, 0.33], [712.3, 0.37], [712.0, 0.375],
  [711.6, 0.36], [711.1, 0.3], [710.6, 0.21], [710.1, 0.13], [709.6, 0.09], [709, 0.078],
];
const feBotB3: P[] = [
  [713.5, 0.078], [712.8, 0.1], [712.3, 0.17], [711.8, 0.29], [711.3, 0.41], [710.9, 0.465], [710.6, 0.476],
  [710.3, 0.46], [709.8, 0.38], [709.3, 0.26], [708.8, 0.15], [708.3, 0.095], [707.8, 0.078],
];
const feBotB4: P[] = [
  [711, 0.077], [710.4, 0.1], [709.9, 0.155], [709.5, 0.19], [709.2, 0.2], [708.9, 0.19], [708.5, 0.15],
  [708.1, 0.105], [707.6, 0.08],
];

// ---------- helpers ----------
const toXY = (a: P[]) => a.map(([x, y]) => ({ x, y }));

const Y_AXES = [
  { id: 'b', domain: [0, 3.6] },
  { id: 'm', domain: [-1, 2.6] },
  { id: 't', domain: [-2, 1.6] },
];

function Txt(props: any) {
  const { viewBox, segs, size = 30, family = SANS, weight = 'normal', anchor = 'start' } = props;
  if (!viewBox) return null;
  const subSize = Math.round(size * 0.68);
  const shift = Math.round(size * 0.3);
  let down = false;
  return (
    <text x={viewBox.x} y={viewBox.y} fontSize={size} fontFamily={family} fontWeight={weight} textAnchor={anchor} fill="#000">
      {segs.map((s: Seg, i: number) => {
        let dy = 0;
        if (s.sub && !down) {
          dy = shift;
          down = true;
        } else if (!s.sub && down) {
          dy = -shift;
          down = false;
        }
        return (
          <tspan key={i} dy={dy} fontSize={s.sub ? subSize : size}>
            {s.t}
          </tspan>
        );
      })}
    </text>
  );
}

const note = (key: string, x: number, y: number, segs: Seg[], opts: any = {}) => (
  <ReferenceDot key={key} yAxisId="b" x={x} y={y} r={0} fill="none" stroke="none" ifOverflow="visible"
    label={<Txt segs={segs} {...opts} />} />
);

const seg = (key: string, x1: number, y1: number, x2: number, y2: number, style = 'solid', w = 2.2) => (
  <ReferenceLine key={key} yAxisId="b" segment={[{ x: x1, y: y1 }, { x: x2, y: y2 }]} stroke="#000" strokeWidth={w}
    strokeDasharray={style === 'dash' ? '7 4' : style === 'dot' ? '2 2.5' : undefined} ifOverflow="visible" />
);

const plain = (t: string): Seg[] => [{ t }];
const C2H2: Seg[] = [{ t: 'after C' }, { t: '2', sub: true }, { t: 'H' }, { t: '2', sub: true }];
const NH3: Seg[] = [{ t: 'in NH' }, { t: '3', sub: true }];
const CoSi2: Seg[] = [{ t: 'CoSi' }, { t: '2', sub: true }];

const LBL = { size: 30, family: SANS };
const ANN = { size: 31, family: ANNO, anchor: 'middle' };
const TAG = { size: 15, family: ANNO, weight: 'bold' };

type Sub = { pts: P[]; fit: P[]; comps: P[][]; r: number };
type ColProps = {
  name: string;
  plotLeft: number;
  plotRight: number;
  ml: number;
  mr: number;
  domain: [number, number];
  major: number[];
  minor: number[];
  labels: number[];
  subs: Sub[];
  extra: React.ReactNode[];
};

function Column({ name, plotLeft, plotRight, ml, mr, domain, major, minor, labels, subs, extra }: ColProps) {
  const width = plotRight - plotLeft + ml + mr;
  const [lo, hi] = domain;
  const frame = [
    ...[0, 1, 2, 3].map((y) => seg(`${name}-h${y}`, lo, y, hi, y, 'solid', 2)),
    seg(`${name}-vl`, lo, 0, lo, 3, 'solid', 2),
    seg(`${name}-vr`, hi, 0, hi, 3, 'solid', 2),
  ];
  const tickDefs: [number, number][] = [...major.map((v) => [v, 0.045] as [number, number]), ...minor.map((v) => [v, 0.028] as [number, number])];
  const ticks = tickDefs.flatMap(([v, len]) => [
    seg(`${name}-t${v}-0`, v, 0, v, len, 'solid', 1.5),
    seg(`${name}-t${v}-1`, v, 1 - len, v, 1 + len, 'solid', 1.5),
    seg(`${name}-t${v}-2`, v, 2 - len, v, 2 + len, 'solid', 1.5),
    seg(`${name}-t${v}-3`, v, 3 - len, v, 3, 'solid', 1.5),
  ]);
  const series = subs.flatMap((s, i) => {
    const yId = Y_AXES[i].id;
    return [
      <Scatter key={`${name}-p${i}`} yAxisId={yId} data={toXY(s.pts)} isAnimationActive={false}
        shape={(p: any) => <circle cx={p.cx} cy={p.cy} r={s.r} fill="#000" />} />,
      ...s.comps.map((c, j) => (
        <Line key={`${name}-c${i}-${j}`} yAxisId={yId} data={toXY(c)} dataKey="y" type="monotone" stroke="#000"
          strokeWidth={1.3} dot={false} activeDot={false} isAnimationActive={false} />
      )),
      <Line key={`${name}-f${i}`} yAxisId={yId} data={toXY(s.fit)} dataKey="y" type="monotone" stroke="#858585"
        strokeWidth={2.4} dot={false} activeDot={false} isAnimationActive={false} />,
    ];
  });
  return (
    <div style={{ position: 'absolute', left: plotLeft - ml, top: 0 }}>
      <ComposedChart width={width} height={778} margin={{ top: 3, right: mr, bottom: 0, left: ml }}>
        <XAxis dataKey="x" type="number" domain={domain} reversed allowDataOverflow ticks={labels} interval={0}
          tickLine={false} axisLine={false} tickSize={0} tickMargin={14} height={72}
          tick={{ fontSize: 23, fill: '#000', fontFamily: NARROW }}
          label={{ value: 'Binding energy/eV', position: 'insideBottom', offset: 10, fontSize: 31, fontWeight: 'bold', fill: '#000', fontFamily: SANS }} />
        {Y_AXES.map((a) => (
          <YAxis key={a.id} yAxisId={a.id} dataKey="y" type="number" domain={a.domain} allowDataOverflow hide />
        ))}
        {series}
        {frame}
        {ticks}
        {extra}
      </ComposedChart>
    </div>
  );
}

const siExtra = [
  note('si-ox', 103.59, 3.195, plain('oxide'), ANN),
  note('si-cs', 99.58, 3.195, CoSi2, ANN),
  note('si-tag', 106.86, 3.047, [{ t: 'Si 2p' }], TAG),
  seg('si-oxbar', 104.79, 3.139, 102.54, 3.139),
  seg('si-ox1', 103.51, 3.139, 103.51, 0.86),
  seg('si-ox2', 103.51, 0.86, 102.59, 0.665),
  seg('si-ox3', 102.59, 0.665, 102.59, 0),
  seg('si-csbar', 100.72, 3.139, 98.5, 3.139, 'dash'),
  seg('si-csv', 99.56, 3.139, 99.56, 1, 'dash'),
  note('si-l1', 99.1, 2.791, C2H2, LBL),
  note('si-l2', 99.1, 2.591, plain('exposure'), LBL),
  note('si-l3', 97.93, 1.792, NH3, LBL),
  note('si-l4', 97.93, 1.587, plain('650°C'), LBL),
  note('si-l5', 98.01, 0.819, plain('as'), LBL),
  note('si-l6', 98.01, 0.614, plain('loaded'), LBL),
];

const coExtra = [
  note('co-ox1', 787.64, 3.4, plain('oxide'), ANN),
  note('co-ox2', 788.06, 3.195, plain('(& satellites)'), ANN),
  note('co-cs', 780.89, 3.195, CoSi2, ANN),
  note('co-me', 776.24, 3.195, plain('metal'), ANN),
  note('co-tag', 794.76, 3.047, [{ t: 'Co 2p' }, { t: '3/2', sub: true }], TAG),
  seg('co-oxbar', 789.49, 3.139, 783.88, 3.139),
  seg('co-oxv', 784.45, 3.139, 784.45, 0.84),
  seg('co-oxbar2', 790.2, 0.84, 778.9, 0.84),
  seg('co-csbar', 782.55, 3.139, 778.9, 3.139, 'dot'),
  seg('co-csv', 778.9, 3.139, 778.9, 1, 'dot'),
  seg('co-mebar', 778.18, 3.139, 774.76, 3.139, 'dash'),
  seg('co-mev', 778.18, 3.139, 778.18, 1, 'dash'),
  note('co-l1', 794.29, 2.791, C2H2, LBL),
  note('co-l2', 794.29, 2.591, plain('exposure'), LBL),
  note('co-l3', 794.29, 1.792, NH3, LBL),
  note('co-l4', 794.29, 1.587, plain('650°C'), LBL),
  note('co-l5', 794.29, 0.819, plain('as'), LBL),
  note('co-l6', 794.29, 0.614, plain('loaded'), LBL),
];

const feExtra = [
  note('fe-ox1', 714.55, 3.4, plain('oxide'), ANN),
  note('fe-ox2', 715.26, 3.195, plain('(& satellites)'), ANN),
  note('fe-fc', 710.17, 3.195, plain('Fe-C'), ANN),
  note('fe-me', 706.32, 3.195, plain('metal'), ANN),
  note('fe-tag', 719.82, 3.047, [{ t: 'Fe 2p' }, { t: '3/2', sub: true }], TAG),
  seg('fe-oxbar', 717.11, 3.139, 712.55, 3.139),
  seg('fe-oxv', 712.55, 3.139, 712.55, 0.785),
  seg('fe-oxbar2', 716.8, 0.785, 708.3, 0.785),
  seg('fe-fcbar', 711.13, 3.139, 708.28, 3.139, 'dot'),
  seg('fe-fcv', 708.3, 3.139, 708.3, 1, 'dot'),
  seg('fe-mebar', 707.71, 3.139, 704.86, 3.139, 'dash'),
  seg('fe-mev', 706.95, 3.139, 706.95, 1, 'dash'),
  note('fe-l1', 719.45, 2.791, C2H2, LBL),
  note('fe-l2', 719.45, 2.591, plain('exposure'), LBL),
  note('fe-l3', 719.45, 1.792, NH3, LBL),
  note('fe-l4', 719.45, 1.587, plain('650°C'), LBL),
  note('fe-l5', 719.45, 0.819, plain('as'), LBL),
  note('fe-l6', 719.45, 0.614, plain('loaded'), LBL),
];

export default function App() {
  return (
    <div style={{ position: 'absolute', left: 0, top: 0, width: 1364, height: 778, background: '#fff', overflow: 'hidden' }}>
      <div style={{ position: 'absolute', left: 33, top: 413, transform: 'translate(-50%, -50%) rotate(-90deg)', whiteSpace: 'nowrap', fontFamily: SANS, fontWeight: 'bold', fontSize: 29 }}>
        Intensity/arb. u.
      </div>
      <Column name="si" plotLeft={69} plotRight={491} ml={50} mr={12} domain={[95, 107]}
        major={siMajor} minor={siMinor} labels={siLabels}
        subs={[
          { pts: siBotPts, fit: siBotFit, comps: [siBotBase], r: 5 },
          { pts: siMidPts, fit: siMidFit, comps: [siMidBase, siMidCo], r: 5 },
          { pts: siTopPts, fit: siTopFit, comps: [siTopBase, siTopOx, siTopCo], r: 2.7 },
        ]}
        extra={siExtra} />
      <Column name="co" plotLeft={504} plotRight={925} ml={10} mr={25} domain={[775, 795]}
        major={coMajor} minor={coMinor} labels={coLabels}
        subs={[
          { pts: coBotPts, fit: coBotFit, comps: [coBotBase, coBotTail, coBotSmall, coBotBroad, coBotC, coBotMain, coBotRight], r: 3.2 },
          { pts: coMidPts, fit: coMidFit, comps: [coMidBase, coMidSatA, coMidSatB, coMidC1, coMidC2, coMidSi, coMidMetal], r: 3.2 },
          { pts: coTopPts, fit: coTopFit, comps: [coTopBase, coTopSatA, coTopSatB, coTopC1, coTopC2, coTopSi, coTopMetal], r: 3.2 },
        ]}
        extra={coExtra} />
      <Column name="fe" plotLeft={937} plotRight={1358} ml={28} mr={6} domain={[705, 720]}
        major={feMajor} minor={feMinor} labels={feLabels}
        subs={[
          { pts: feBotPts, fit: feBotFit, comps: [feBotBase, feBotB1, feBotB2, feBotB3, feBotB4], r: 3.2 },
          { pts: feMidPts, fit: feMidFit, comps: [feMidBase, feMidF1, feMidF2, feMidF3, feMidF4, feMidF5, feMidF6, feMidMetal], r: 3.2 },
          { pts: feTopPts, fit: feTopFit, comps: [feTopBase, feTopF1, feTopF2, feTopF3, feTopF4, feTopF5, feTopF6, feTopMetal], r: 3.2 },
        ]}
        extra={feExtra} />
    </div>
  );
}
